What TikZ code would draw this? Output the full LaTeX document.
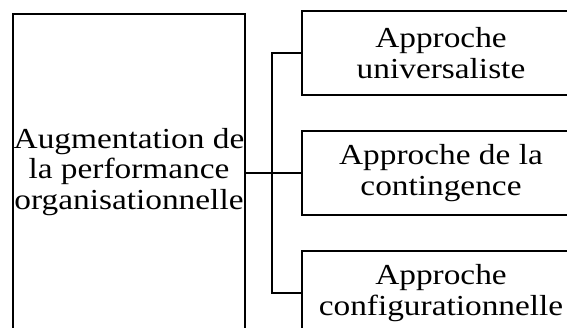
\documentclass[tikz,border=0pt]{standalone}
\usepackage{fontspec}
\setmainfont{Liberation Serif}[FakeStretch=1.15]
\begin{document}
\begin{tikzpicture}[x=1pt,y=-1pt,
  box/.style={draw=black, line width=1.6pt, align=center, inner sep=0pt,
    font=\fontsize{29}{30.5}\selectfont},
  link/.style={draw=black, line width=1.6pt}]
\useasboundingbox (0,0) rectangle (567,328);
\clip (0,0) rectangle (567,328);
\node[box, minimum width=232pt, minimum height=316pt] (L) at (129,172)
  {Augmentation de\\la performance\\organisationnelle};
\node[box, minimum width=278pt, minimum height=84pt] (b1) at (441,53)
  {Approche\\universaliste};
\node[box, minimum width=278pt, minimum height=84pt] (b2) at (441,173)
  {Approche de la\\contingence};
\node[box, minimum width=278pt, minimum height=84pt] (b3) at (441,293)
  {Approche\\configurationnelle};
\coordinate (J) at (272,173);
\draw[link] (L.east |- J) -- (b2.west);
\draw[link] (b1.west) -| (J) |- (b3.west);
\end{tikzpicture}
\end{document}
